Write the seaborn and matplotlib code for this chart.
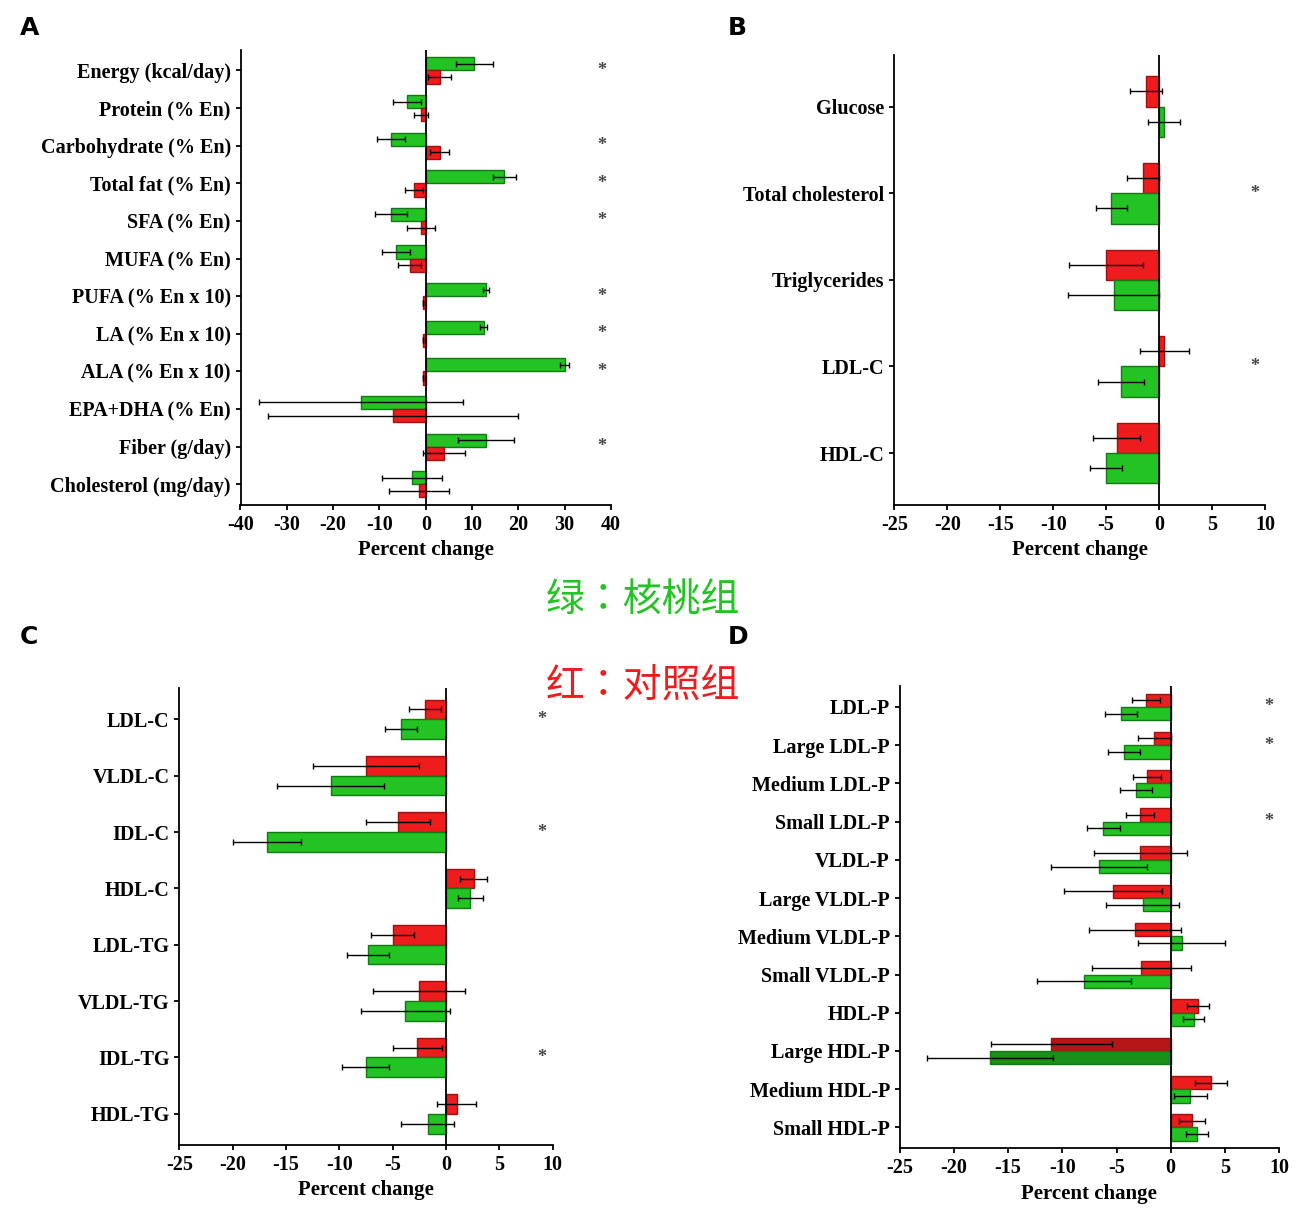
import matplotlib.pyplot as plt
import seaborn as sns
import pandas as pd

plt.rcParams['font.family'] = 'Liberation Serif'
plt.rcParams['font.weight'] = 'bold'
plt.rcParams['axes.unicode_minus'] = False

GREEN = '#22c322'
RED = '#ee1c1c'

# Panel A: dietary intake
a_cats = ['Energy (kcal/day)', 'Protein (% En)', 'Carbohydrate (% En)', 'Total fat (% En)',
          'SFA (% En)', 'MUFA (% En)', 'PUFA (% En x 10)', 'LA (% En x 10)',
          'ALA (% En x 10)', 'EPA+DHA (% En)', 'Fiber (g/day)', 'Cholesterol (mg/day)']
a_green = [10.5, -4, -7.5, 17, -7.5, -6.5, 13, 12.5, 30, -14, 13, -3]
a_green_err = [4, 3, 3, 2.5, 3.5, 3, 0.7, 0.7, 1, 22, 6, 6.5]
a_red = [3, -1, 3, -2.5, -1, -3.5, -0.5, -0.5, -0.5, -7, 4, -1.5]
a_red_err = [2.5, 1.5, 2, 2, 3, 2.5, 0, 0, 0, 27, 4.5, 6.5]
a_star = ['Energy (kcal/day)', 'Carbohydrate (% En)', 'Total fat (% En)', 'SFA (% En)',
          'PUFA (% En x 10)', 'LA (% En x 10)', 'ALA (% En x 10)', 'Fiber (g/day)']

# Panel B: lipids
b_cats = ['Glucose', 'Total cholesterol', 'Triglycerides', 'LDL-C', 'HDL-C']
b_red = [-1.2, -1.5, -5, 0.5, -4]
b_red_err = [1.5, 1.5, 3.5, 2.3, 2.2]
b_green = [0.5, -4.5, -4.3, -3.6, -5]
b_green_err = [1.5, 1.5, 4.3, 2.2, 1.5]
b_star = ['Total cholesterol', 'LDL-C']

# Panel C: lipoprotein lipids
c_cats = ['LDL-C', 'VLDL-C', 'IDL-C', 'HDL-C', 'LDL-TG', 'VLDL-TG', 'IDL-TG', 'HDL-TG']
c_red = [-2, -7.5, -4.5, 2.6, -5, -2.5, -2.7, 1]
c_red_err = [1.5, 5, 3, 1.3, 2, 4.3, 2.3, 1.8]
c_green = [-4.2, -10.8, -16.8, 2.3, -7.3, -3.8, -7.5, -1.7]
c_green_err = [1.5, 5, 3.2, 1.2, 2, 4.2, 2.2, 2.5]
c_star = ['LDL-C', 'IDL-C', 'IDL-TG']

# Panel D: lipoprotein particles
d_cats = ['LDL-P', 'Large LDL-P', 'Medium LDL-P', 'Small LDL-P', 'VLDL-P', 'Large VLDL-P',
          'Medium VLDL-P', 'Small VLDL-P', 'HDL-P', 'Large HDL-P', 'Medium HDL-P', 'Small HDL-P']
d_red = [-2.3, -1.5, -2.2, -2.8, -2.8, -5.3, -3.3, -2.7, 2.5, -11, 3.7, 2]
d_red_err = [1.3, 1.5, 1.3, 1.3, 4.3, 4.5, 4.2, 4.6, 1, 5.6, 1.5, 1.2]
d_green = [-4.6, -4.3, -3.2, -6.2, -6.6, -2.6, 1, -8, 2.1, -16.7, 1.8, 2.4]
d_green_err = [1.5, 1.5, 1.5, 1.5, 4.4, 3.4, 4, 4.3, 1, 5.8, 1.5, 1]
d_star = ['LDL-P', 'Large LDL-P', 'Small LDL-P']


def panel(ax, cats, green, gerr, red, rerr, stars, order, xlim, xticks, star_x, dark=None, pad=0.6):
    df = pd.DataFrame({
        'cat': cats * 2,
        'val': green + red,
        'err': gerr + rerr,
        'grp': ['g'] * len(cats) + ['r'] * len(cats),
    })
    sns.barplot(data=df, y='cat', x='val', hue='grp', hue_order=order, order=cats,
                palette={'g': GREEN, 'r': RED}, orient='h', errorbar=None,
                width=0.7, ax=ax, legend=False, linewidth=1)
    for grp, cont in zip(order, ax.containers):
        sub = df[df.grp == grp].set_index('cat').loc[cats]
        for i, p in enumerate(cont.patches):
            col = GREEN if grp == 'g' else RED
            edge = '#137a13' if grp == 'g' else '#a01010'
            if dark and cats[i] == dark:
                col = '#1a8f1a' if grp == 'g' else '#b51515'
            p.set_facecolor(col)
            p.set_edgecolor(edge)
            y = p.get_y() + p.get_height() / 2
            v = sub['val'].iloc[i]
            e = sub['err'].iloc[i]
            ax.errorbar(v, y, xerr=e, color='black', lw=1, capsize=2.5, capthick=1)
    for s in stars:
        ax.text(star_x, cats.index(s), '*', ha='center', va='center', fontsize=13, color='#444')
    ax.set_xlim(*xlim)
    ax.set_ylim(len(cats) - 1 + pad, -pad)
    ax.set_xticks(xticks)
    ax.set_xlabel('Percent change', fontsize=15, fontweight='bold')
    ax.set_ylabel('')
    ax.axvline(0, color='black', lw=1.3)
    ax.spines[['top', 'right']].set_visible(False)
    for sp in ['left', 'bottom']:
        ax.spines[sp].set_linewidth(1.3)
    ax.tick_params(axis='both', labelsize=14.5, width=1.3)
    for t in ax.get_xticklabels() + ax.get_yticklabels():
        t.set_fontweight('bold')


fig = plt.figure(figsize=(13, 12.14), dpi=100)
axA = fig.add_axes([0.185, 0.584, 0.285, 0.375])
axB = fig.add_axes([0.688, 0.584, 0.285, 0.371])
axC = fig.add_axes([0.138, 0.057, 0.287, 0.376])
axD = fig.add_axes([0.692, 0.054, 0.292, 0.381])

panel(axA, a_cats, a_green, a_green_err, a_red, a_red_err, a_star, ['g', 'r'],
      (-40, 40), range(-40, 41, 10), 38, pad=0.55)
panel(axB, b_cats, b_green, b_green_err, b_red, b_red_err, b_star, ['r', 'g'],
      (-25, 10), range(-25, 11, 5), 9, pad=0.6)
panel(axC, c_cats, c_green, c_green_err, c_red, c_red_err, c_star, ['r', 'g'],
      (-25, 10), range(-25, 11, 5), 9, pad=0.55)
panel(axD, d_cats, d_green, d_green_err, d_red, d_red_err, d_star, ['r', 'g'],
      (-25, 10), range(-25, 11, 5), 9, dark='Large HDL-P', pad=0.55)

for lab, x, y in [('A', 0.015, 0.977), ('B', 0.56, 0.977), ('C', 0.015, 0.475), ('D', 0.56, 0.475)]:
    fig.text(x, y, lab, fontsize=18, fontweight='bold', family='DejaVu Sans', va='center')

cjk = ['Noto Sans CJK SC', 'Noto Sans CJK JP', 'DejaVu Sans']
fig.text(0.42, 0.506, '绿：核桃组', fontsize=28, color=GREEN, family=cjk,
         fontweight='normal', va='center')
fig.text(0.42, 0.435, '红：对照组', fontsize=28, color=RED, family=cjk,
         fontweight='normal', va='center')

fig.savefig('out.png', dpi=100)
